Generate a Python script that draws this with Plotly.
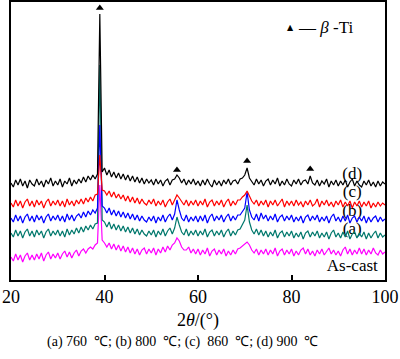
import numpy as np
import plotly.graph_objects as go

# 2theta scan grid (0.5 deg step)
two_theta = np.arange(20.0, 100.0001, 0.5)

series_d = [
    97, 93, 100, 95, 101, 94, 99, 92, 100, 96,
    94, 101, 95, 99, 93, 100, 96, 102, 94, 99,
    95, 101, 93, 99, 96, 102, 94, 100, 96, 101,
    97, 103, 98, 104, 100, 105, 101, 106, 266, 108,
    112, 105, 110, 103, 108, 102, 107, 101, 106, 100,
    105, 99, 104, 98, 103, 97, 102, 96, 101, 97,
    100, 95, 101, 96, 100, 94, 99, 101, 95, 100,
    101, 105, 102, 97, 101, 95, 100, 96, 101, 95,
    99, 94, 100, 95, 101, 96, 93, 100, 95, 99,
    94, 100, 96, 101, 95, 99, 100, 96, 101, 102,
    105, 112, 102, 98, 95, 101, 96, 100, 94, 99,
    101, 95, 100, 96, 102, 94, 99, 95, 101, 96,
    94, 100, 96, 101, 95, 99, 100, 96, 104, 97,
    95, 100, 94, 99, 96, 101, 93, 99, 95, 100,
    94, 99, 95, 100, 93, 98, 101, 94, 99, 95,
    93, 99, 95, 100, 94, 98, 93, 99, 94, 98,
    96,
]

series_c = [
    77, 73, 80, 74, 79, 72, 78, 81, 74, 79,
    73, 80, 75, 79, 72, 78, 81, 74, 79, 75,
    80, 74, 79, 73, 81, 75, 79, 74, 80, 76,
    81, 76, 82, 78, 83, 79, 85, 86, 125, 90,
    89, 85, 89, 83, 88, 82, 86, 81, 85, 79,
    84, 78, 83, 77, 82, 76, 81, 77, 75, 80,
    76, 81, 74, 79, 75, 80, 73, 78, 81, 75,
    80, 85, 82, 78, 75, 80, 74, 79, 75, 80,
    74, 79, 75, 81, 73, 78, 80, 74, 79, 75,
    80, 73, 78, 81, 74, 79, 75, 80, 80, 83,
    85, 89, 84, 79, 76, 80, 74, 79, 75, 80,
    73, 79, 75, 80, 74, 78, 81, 73, 79, 75,
    79, 74, 80, 75, 78, 73, 79, 75, 80, 74,
    76, 81, 73, 79, 75, 80, 74, 78, 73, 79,
    75, 80, 73, 78, 74, 79, 72, 78, 74, 79,
    73, 78, 74, 79, 72, 77, 73, 78, 74, 77,
    75,
]

series_b = [
    62, 58, 65, 59, 64, 57, 63, 66, 59, 64,
    58, 65, 60, 64, 57, 63, 66, 59, 64, 60,
    65, 59, 64, 58, 66, 60, 65, 59, 64, 66,
    62, 68, 63, 69, 65, 70, 67, 72, 155, 74,
    72, 67, 72, 65, 70, 64, 69, 63, 68, 62,
    67, 61, 66, 60, 65, 59, 64, 60, 58, 63,
    59, 64, 57, 63, 59, 65, 58, 63, 66, 60,
    66, 80, 70, 62, 59, 65, 58, 63, 59, 64,
    58, 64, 59, 65, 57, 63, 66, 59, 64, 60,
    65, 58, 63, 66, 59, 64, 60, 65, 65, 68,
    72, 88, 70, 63, 60, 66, 59, 67, 61, 65,
    59, 64, 60, 66, 58, 63, 65, 59, 64, 60,
    65, 58, 63, 59, 64, 57, 63, 65, 59, 64,
    60, 65, 58, 63, 59, 64, 57, 63, 66, 59,
    63, 58, 64, 59, 65, 57, 62, 64, 58, 63,
    59, 64, 57, 63, 58, 62, 64, 58, 63, 59,
    61,
]

series_a = [
    47, 43, 50, 44, 49, 42, 48, 51, 44, 49,
    43, 50, 45, 49, 42, 48, 51, 44, 49, 45,
    50, 44, 49, 43, 51, 45, 50, 46, 52, 47,
    53, 48, 54, 50, 55, 51, 56, 57, 215, 60,
    58, 53, 58, 51, 56, 50, 55, 49, 54, 48,
    53, 47, 52, 46, 51, 45, 50, 46, 44, 49,
    45, 50, 43, 49, 45, 51, 44, 49, 52, 46,
    52, 63, 55, 48, 45, 51, 44, 49, 45, 50,
    44, 49, 45, 51, 43, 48, 50, 44, 49, 45,
    50, 43, 48, 51, 44, 49, 45, 50, 51, 55,
    60, 75, 58, 50, 46, 51, 45, 50, 44, 49,
    43, 48, 44, 50, 42, 47, 49, 43, 48, 44,
    49, 42, 47, 43, 48, 41, 47, 49, 43, 48,
    44, 49, 42, 47, 43, 48, 41, 47, 50, 43,
    47, 42, 48, 43, 49, 41, 46, 48, 42, 47,
    43, 48, 41, 47, 42, 46, 49, 42, 47, 43,
    45,
]

series_ascast = [
    23, 19, 26, 20, 25, 18, 24, 27, 20, 25,
    20, 26, 21, 27, 19, 25, 28, 21, 26, 22,
    27, 21, 26, 29, 23, 28, 22, 27, 30, 24,
    29, 31, 27, 31, 33, 31, 35, 37, 95, 40,
    37, 33, 37, 31, 36, 30, 35, 29, 34, 28,
    33, 27, 32, 26, 31, 25, 30, 32, 26, 31,
    27, 32, 25, 31, 27, 33, 28, 34, 30, 35,
    37, 42, 39, 33, 30, 30, 33, 27, 31, 26,
    31, 25, 30, 26, 32, 24, 29, 31, 25, 30,
    26, 31, 24, 29, 25, 30, 26, 31, 32, 34,
    36, 38, 35, 30, 27, 31, 25, 30, 26, 31,
    25, 30, 26, 32, 24, 29, 31, 25, 30, 26,
    31, 24, 29, 25, 30, 32, 26, 31, 25, 29,
    24, 30, 26, 31, 25, 29, 32, 26, 30, 25,
    29, 24, 30, 33, 26, 31, 25, 30, 26, 32,
    26, 31, 25, 30, 26, 32, 27, 25, 30, 26,
    28,
]

# beta-Ti peak markers
peak_x = [39.0, 55.5, 70.5, 84.0]
peak_y = [272, 110, 119, 111]

# curve labels
label_text = ["(d)", "(c)", "(b)", "(a)", "As-cast"]
label_x = [93.0, 93.0, 93.0, 93.0, 93.0]
label_y = [105, 87, 68, 50, 13]

x_ticks = [20, 40, 60, 80, 100]

FONT = "Liberation Serif"

fig = go.Figure()

# labels first so that curves are drawn over them
fig.add_trace(go.Scatter(
    x=label_x, y=label_y, text=label_text, mode="text",
    textfont=dict(family=FONT, size=17, color="black"),
    textposition="middle center", showlegend=False, hoverinfo="skip",
))

curves = [
    (series_ascast, "#ff00ff"),
    (series_a, "#00786c"),
    (series_b, "#0000ff"),
    (series_c, "#ff0000"),
    (series_d, "#000000"),
]
for ys, col in curves:
    fig.add_trace(go.Scatter(
        x=two_theta, y=ys, mode="lines",
        line=dict(color=col, width=1.2), showlegend=False,
    ))

fig.add_trace(go.Scatter(
    x=peak_x, y=peak_y, mode="markers",
    marker=dict(symbol="triangle-up", size=7, color="black"),
    showlegend=False,
))


def px_x(p):
    return (p - 11) / 374


def px_y(p):
    return (280 - p) / 278


fig.update_layout(
    width=400, height=359,
    margin=dict(l=11, r=15, t=2, b=79, autoexpand=False),
    paper_bgcolor="white", plot_bgcolor="white",
    font=dict(family=FONT, color="black"),
    xaxis=dict(
        range=[20, 100], tickvals=x_ticks, ticks="inside", ticklen=5,
        tickwidth=1.5, tickcolor="black", showline=True, linewidth=1.5,
        linecolor="black", mirror=True, showgrid=False, zeroline=False,
        automargin=False,
        tickfont=dict(family=FONT, size=18, color="black"),
    ),
    yaxis=dict(
        range=[0, 278], showticklabels=False, ticks="", showline=True,
        linewidth=1.5, linecolor="black", mirror=True, showgrid=False,
        zeroline=False, automargin=False,
    ),
    annotations=[
        dict(x=0.5, y=px_y(320), xref="paper", yref="paper", yanchor="middle",
             text="2<i>θ</i>/(°)", showarrow=False,
             font=dict(family=FONT, size=18)),
        dict(x=px_x(290), y=px_y(27), xref="paper", yref="paper",
             xanchor="center", yanchor="middle", text="▲",
             showarrow=False, font=dict(family="DejaVu Sans", size=8)),
        dict(x=px_x(296), y=px_y(28), xref="paper", yref="paper",
             xanchor="left", yanchor="middle",
             text="— <i>β</i> -Ti",
             showarrow=False, font=dict(family=FONT, size=17)),
        dict(x=px_x(182), y=px_y(342), xref="paper", yref="paper",
             yanchor="middle",
             text="(a) 760  ℃; (b) 800  ℃; (c)  860  ℃; (d) 900  ℃",
             showarrow=False, font=dict(family=FONT, size=14)),
    ],
)

fig.write_html("out.html", config={"displayModeBar": False},
               post_script="document.body.style.margin='0';document.body.style.padding='0';")
